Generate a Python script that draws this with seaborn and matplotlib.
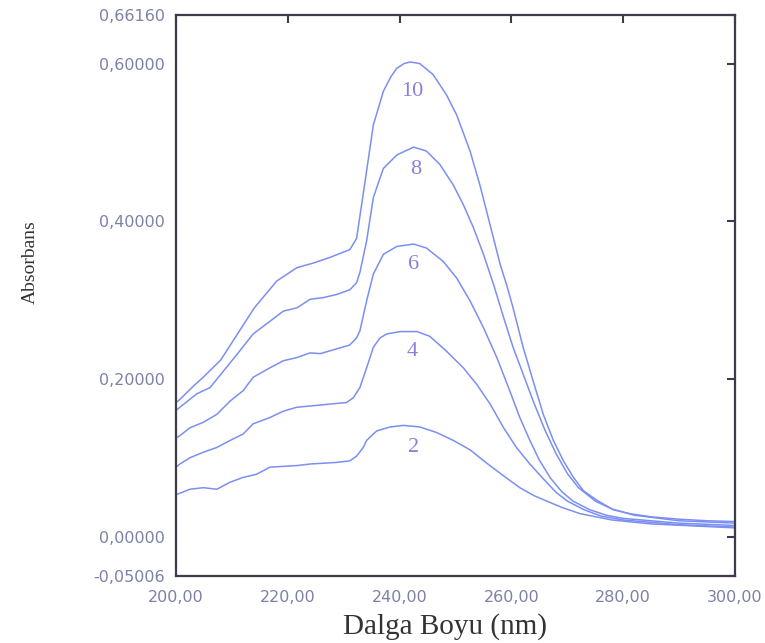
import matplotlib
matplotlib.use("Agg")
import matplotlib.pyplot as plt
import seaborn as sns
import pandas as pd

# ---- data ----
wl_10 = [200.0, 200.7, 203.0, 205.0, 208.0, 211.0, 214.0, 218.0, 221.6, 224.6, 227.5, 231.1, 232.3, 233.5,
         235.3, 237.1, 238.5, 239.5, 240.8, 241.9, 243.6, 246.0, 248.4, 250.2, 252.6, 254.4, 256.2, 258.0, 259.2, 260.3,
         262.1, 263.9, 265.7, 267.5, 269.3, 271.1, 272.9, 275.3, 278.2, 281.2, 285.0, 290.0, 295.0, 300.0]
ab_10 = [0.170, 0.174, 0.190, 0.203, 0.224, 0.257, 0.290, 0.324, 0.341, 0.347, 0.354, 0.364, 0.378, 0.435,
         0.522, 0.565, 0.584, 0.594, 0.600, 0.602, 0.600, 0.586, 0.560, 0.535, 0.489, 0.445, 0.395, 0.345, 0.318, 0.290,
         0.240, 0.197, 0.155, 0.122, 0.096, 0.075, 0.058, 0.046, 0.034, 0.029, 0.025, 0.022, 0.020, 0.019]

wl_8 = [200.0, 200.7, 203.7, 206.1, 208.5, 210.9, 213.8, 216.8, 219.2, 221.6, 224.0, 226.3, 228.7, 231.1,
        232.3, 232.9, 234.1, 235.3, 237.1, 239.5, 242.5, 244.8, 247.2, 249.6, 251.4, 253.2, 255.0, 256.8,
        258.6, 260.3, 262.1, 264.0, 266.0, 268.0, 270.0, 272.0, 275.0, 278.0, 282.0, 290.0, 300.0]
ab_8 = [0.160, 0.164, 0.181, 0.189, 0.210, 0.231, 0.257, 0.273, 0.286, 0.290, 0.301, 0.303, 0.307, 0.313,
        0.322, 0.335, 0.375, 0.430, 0.467, 0.484, 0.494, 0.489, 0.472, 0.446, 0.421, 0.392, 0.358, 0.320,
        0.278, 0.240, 0.206, 0.170, 0.135, 0.105, 0.080, 0.062, 0.045, 0.035, 0.027, 0.020, 0.017]

wl_6 = [200.0, 200.7, 202.5, 204.9, 207.3, 209.7, 212.0, 213.8, 216.8, 219.2, 221.6, 224.0, 225.8, 228.7,
        231.1, 232.3, 232.9, 234.1, 235.3, 237.1, 239.5, 242.5, 244.8, 247.8, 250.2, 252.6, 255.0, 257.4,
        259.7, 261.5, 263.3, 265.0, 267.0, 269.0, 271.0, 274.0, 277.0, 280.0, 290.0, 300.0]
ab_6 = [0.125, 0.128, 0.138, 0.145, 0.155, 0.172, 0.185, 0.202, 0.214, 0.223, 0.227, 0.233, 0.232, 0.238,
        0.243, 0.252, 0.261, 0.299, 0.333, 0.358, 0.368, 0.371, 0.366, 0.349, 0.328, 0.299, 0.265, 0.227,
        0.185, 0.151, 0.122, 0.097, 0.074, 0.057, 0.045, 0.034, 0.027, 0.023, 0.017, 0.014]

wl_4 = [200.0, 200.7, 202.5, 204.9, 207.3, 209.7, 212.0, 213.8, 216.8, 219.2, 221.6, 224.6, 227.5, 230.5,
        231.7, 232.9, 234.1, 235.3, 236.5, 237.7, 240.1, 243.1, 245.4, 248.4, 251.4, 253.8, 256.2, 258.6,
        260.9, 263.3, 266.0, 268.0, 270.0, 273.0, 276.0, 280.0, 290.0, 300.0]
ab_4 = [0.088, 0.092, 0.100, 0.107, 0.113, 0.122, 0.130, 0.143, 0.151, 0.159, 0.164, 0.166, 0.168, 0.170,
        0.176, 0.189, 0.214, 0.240, 0.252, 0.257, 0.260, 0.260, 0.254, 0.235, 0.214, 0.193, 0.168, 0.138,
        0.113, 0.092, 0.071, 0.056, 0.045, 0.034, 0.026, 0.021, 0.015, 0.012]

wl_2 = [200.0, 202.5, 204.9, 207.3, 209.7, 212.0, 214.4, 216.8, 219.2, 221.6, 224.0, 226.3, 228.7, 231.1,
        232.3, 233.5, 234.1, 235.9, 238.3, 240.7, 243.6, 246.6, 249.6, 252.6, 255.6, 258.6, 261.5, 264.0,
        266.3, 269.0, 272.3, 278.0, 285.0, 300.0]
ab_2 = [0.053, 0.060, 0.062, 0.060, 0.069, 0.075, 0.079, 0.088, 0.089, 0.090, 0.092, 0.093, 0.094, 0.096,
        0.102, 0.113, 0.122, 0.134, 0.139, 0.141, 0.139, 0.132, 0.122, 0.110, 0.093, 0.077, 0.062, 0.052,
        0.045, 0.037, 0.029, 0.021, 0.016, 0.011]

series_names = ["10", "8", "6", "4", "2"]
label_x = [242.3, 242.8, 242.5, 242.2, 242.5]
label_y = [0.565, 0.465, 0.345, 0.235, 0.113]

x_ticks = [200, 220, 240, 260, 280, 300]
x_tick_labels = ["200,00", "220,00", "240,00", "260,00", "280,00", "300,00"]
y_ticks = [-0.05006, 0.0, 0.2, 0.4, 0.6, 0.66160]
y_tick_labels = ["-0,05006", "0,00000", "0,20000", "0,40000", "0,60000", "0,66160"]

# ---- build long-form table ----
frames = []
for name, w, a in zip(series_names, [wl_10, wl_8, wl_6, wl_4, wl_2],
                      [ab_10, ab_8, ab_6, ab_4, ab_2]):
    frames.append(pd.DataFrame({"wl": w, "abs": a, "conc": name}))
df = pd.concat(frames, ignore_index=True)

sns.set_style("white")
plt.rcParams["font.family"] = ["DejaVu Sans"]

line_color = "#7b8ff2"
tick_color = "#7c82a6"
spine_color = "#3c3c4a"

fig = plt.figure(figsize=(7.65, 6.43), dpi=100)
W, H = 765, 643
ax = fig.add_axes([176 / W, 1 - 576 / H, (735 - 176) / W, (576 - 15) / H])

sns.lineplot(data=df, x="wl", y="abs", hue="conc", units="conc", estimator=None, sort=False,
             palette={n: line_color for n in series_names}, legend=False, linewidth=1.1, ax=ax)

ax.set_xlim(200, 300)
ax.set_ylim(-0.05006, 0.66160)
ax.set_xticks(x_ticks)
ax.set_xticklabels(x_tick_labels)
ax.set_yticks(y_ticks)
ax.set_yticklabels(y_tick_labels)
ax.tick_params(axis="both", direction="in", length=6, width=1.5, color=spine_color,
               top=True, right=True, labelsize=11.5, labelcolor=tick_color)
ax.tick_params(axis="x", pad=10)
ax.tick_params(axis="y", pad=8)
for s in ax.spines.values():
    s.set_visible(True)
    s.set_color(spine_color)
    s.set_linewidth(1.6)
ax.set_xlabel("")
ax.set_ylabel("")

for name, lx, ly in zip(series_names, label_x, label_y):
    ax.text(lx, ly, name, ha="center", va="center", fontsize=16,
            family="Liberation Serif", color="#8a80d8")

fig.text(445 / W, 1 - 627 / H, "Dalga Boyu (nm)", ha="center", va="center",
         fontsize=21, family="Liberation Serif", color="#333333")
fig.text(30 / W, 1 - 262 / H, "Absorbans", ha="center", va="center", rotation=90,
         fontsize=14, family="Liberation Serif", color="#333333")

fig.savefig("out.png", dpi=100)
